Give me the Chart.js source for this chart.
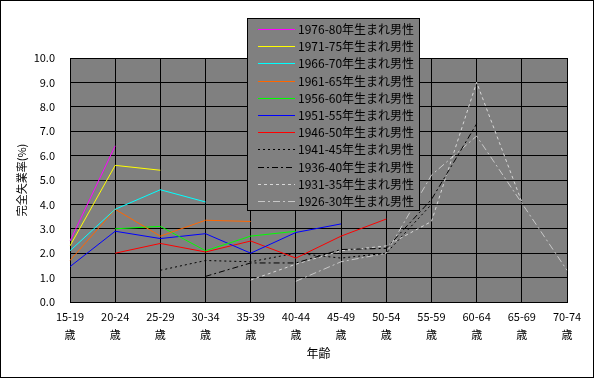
<!DOCTYPE html>
<html><head><meta charset="utf-8">
<script src="https://cdn.jsdelivr.net/npm/chart.js@4/dist/chart.umd.min.js"></script>
<style>html,body{margin:0;padding:0;background:#fff}#wrap{width:594px;height:378px;position:relative}</style>
</head><body><div id="wrap"><canvas id="c" width="594" height="378"></canvas></div>
<script>
// ---- data ----
const ageGroups = ['15-19','20-24','25-29','30-34','35-39','40-44','45-49','50-54','55-59','60-64','65-69','70-74'];
const ageSuffix = '歳';
const seriesNames = ['1976-80年生まれ男性','1971-75年生まれ男性','1966-70年生まれ男性','1961-65年生まれ男性','1956-60年生まれ男性','1951-55年生まれ男性','1946-50年生まれ男性','1941-45年生まれ男性','1936-40年生まれ男性','1931-35年生まれ男性','1926-30年生まれ男性'];
const b1976 = [2.5, 6.4, null, null, null, null, null, null, null, null, null, null];
const b1971 = [2.3, 5.6, 5.4, null, null, null, null, null, null, null, null, null];
const b1966 = [2.1, 3.8, 4.6, 4.1, null, null, null, null, null, null, null, null];
const b1961 = [1.7, 3.8, 2.7, 3.35, 3.3, null, null, null, null, null, null, null];
const b1956 = [null, 3.0, 3.1, 2.1, 2.7, 2.9, null, null, null, null, null, null];
const b1951 = [1.45, 2.9, 2.6, 2.8, 2.0, 2.85, 3.2, null, null, null, null, null];
const b1946 = [null, 2.0, 2.4, 2.05, 2.5, 1.8, 2.7, 3.4, null, null, null, null];
const b1941 = [null, null, 1.3, 1.7, 1.65, 2.0, 1.8, 2.0, 4.0, null, null, null];
const b1936 = [null, null, null, 1.05, 1.6, 1.6, 2.15, 2.2, 4.2, 7.3, null, null];
const b1931 = [null, null, null, null, 0.9, 1.55, 2.1, 2.3, 3.3, 9.0, 4.1, null];
const b1926 = [null, null, null, null, null, 0.85, 1.65, 2.0, 5.2, 6.8, 4.05, 1.3];
const yTickLabels = ['0.0','1.0','2.0','3.0','4.0','5.0','6.0','7.0','8.0','9.0','10.0'];
const yTitle = '完全失業率(%)';
const xTitle = '年齢';

// ---- styles ----
const seriesData = [b1976,b1971,b1966,b1961,b1956,b1951,b1946,b1941,b1936,b1931,b1926];
const colors = ['#ff00ff','#ffff00','#00ffff','#ff6600','#00ff00','#0000ff','#ff0000','#000000','#000000','#d8d8d8','#c8c8c8'];
const dashes = [[],[],[],[],[],[],[],[2,3],[6,3,2,3],[3,3],[7,3,2,3]];
const FONT = '"Noto Sans CJK JP", "Noto Sans", sans-serif';

const datasets = seriesData.map((d,i)=>({
  label: seriesNames[i], data: d, borderColor: colors[i], backgroundColor: colors[i],
  borderWidth: 1, borderDash: dashes[i], pointRadius: 0, tension: 0, spanGaps: false, fill: false
}));

const bgPlugin = {
  id: 'bg',
  beforeDraw(chart) {
    const ctx = chart.ctx, a = chart.chartArea;
    ctx.save();
    ctx.fillStyle = '#fff'; ctx.fillRect(0,0,chart.width,chart.height);
    ctx.fillStyle = '#808080'; ctx.fillRect(a.left, a.top, a.right-a.left, a.bottom-a.top);
    ctx.restore();
  },
  afterDraw(chart) {
    const ctx = chart.ctx;
    ctx.save();
    // legend box
    const bx = 247.5, by = 18.5, bw = 172, bh = 192;
    ctx.fillStyle = '#808080'; ctx.fillRect(bx, by, bw, bh);
    ctx.strokeStyle = '#000'; ctx.lineWidth = 1; ctx.strokeRect(bx, by, bw, bh);
    ctx.font = '12px ' + FONT; ctx.textBaseline = 'middle'; ctx.textAlign = 'left';
    chart.data.datasets.forEach((ds, i) => {
      const y = Math.round(29 + i*17.2) + 0.5;
      ctx.strokeStyle = ds.borderColor; ctx.setLineDash(ds.borderDash || []);
      ctx.lineWidth = 1;
      ctx.beginPath(); ctx.moveTo(258, y); ctx.lineTo(295, y); ctx.stroke();
      ctx.setLineDash([]);
      ctx.fillStyle = '#000'; ctx.fillText(ds.label, 298, y);
    });
    // outer border
    ctx.strokeStyle = '#000'; ctx.strokeRect(0.5, 0.5, chart.width-1, chart.height-1);
    ctx.restore();
  }
};

new Chart(document.getElementById('c'), {
  type: 'line',
  data: { labels: ageGroups.map(a => [a, ageSuffix]), datasets },
  options: {
    responsive: false, animation: false, devicePixelRatio: 1,
    layout: { padding: { left: 10, top: 58, right: 27, bottom: 10 } },
    plugins: { legend: { display: false }, tooltip: { enabled: false } },
    scales: {
      x: {
        offset: false,
        grid: { color: '#000', lineWidth: 1, drawTicks: false },
        border: { color: '#000', width: 1 },
        ticks: { color: '#000', font: { family: FONT, size: 11, lineHeight: 1.6 }, padding: 6, maxRotation: 0, autoSkip: false },
        title: { display: true, text: xTitle, color: '#000', font: { family: FONT, size: 12, lineHeight: 1.2 }, padding: { top: 0, bottom: 7 } },
        afterFit(s) { s.height = 66; }
      },
      y: {
        min: 0, max: 10,
        grid: { color: '#000', lineWidth: 1, drawTicks: false },
        border: { color: '#000', width: 1 },
        ticks: { stepSize: 1, color: '#000', font: { family: FONT, size: 11 }, padding: 15,
                 callback: (v) => yTickLabels[Math.round(v)] },
        title: { display: true, text: yTitle, color: '#000', font: { family: FONT, size: 11, lineHeight: 1.2 }, padding: { top: 5, bottom: 0 } },
        afterFit(s) { s.width = 60; }
      }
    }
  },
  plugins: [bgPlugin]
});
</script></body></html>
